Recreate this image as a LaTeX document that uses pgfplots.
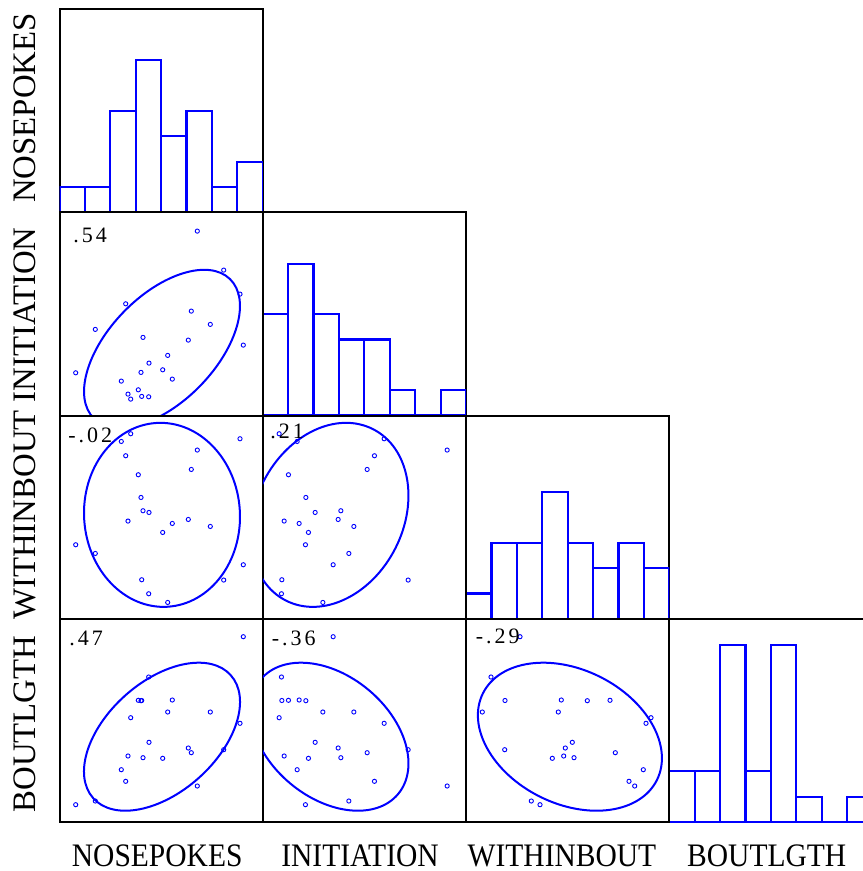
\documentclass[border=0pt]{standalone}
\usepackage{pgfplots}
\pgfplotsset{compat=1.18}
\usepackage{pgfplotstable}
\usepackage{fontspec}
\setmainfont{Liberation Serif}

\pgfplotstableread{
N I W B
137.8 184.4 168.7 36
164.2 145.4 38.7 72.3
180.5 121.4 180 98.7
66.2 111.7 163 40.7
131.8 104.4 149.3 69.3
35.8 86.1 65.3 21
150.8 91.1 92.3 110
83.5 78.1 108 64.3
128.8 75.4 99.3 74
183.8 70.4 54 185.3
108.2 60.1 16.3 110
89.5 52.4 106.3 79.7
16.2 42.7 74 17.3
81.5 43.1 121.3 121.3
103.2 45.7 86.3 63.7
112.8 36.4 95.3 122
61.8 34.4 177.3 52.3
78.8 25.7 144 121.7
68.5 21.4 97.7 66
71.2 16.4 185 104.3
82.2 19.1 39 121.5
89.2 18.7 25 145
}\data

\pgfplotsset{
  panel/.style={width=101.625pt,height=101.625pt,scale only axis,
    xmin=0,xmax=203.25,ymin=0,ymax=203.25,
    xtick=\empty,ytick=\empty,
    axis line style={line width=1pt,black},
    anchor=south west},
  hist/.style={width=101.625pt,height=101.625pt,scale only axis,
    xmin=0,xmax=8,ymin=0,ymax=8.03,
    xtick=\empty,ytick=\empty,
    axis line style={line width=1pt,black},
    anchor=south west},
}
\newcommand{\scat}[2]{\addplot[only marks, mark=o, mark size=1.05pt, blue, mark options={line width=0.45pt}] table[x=#1,y=#2]{\data};}
\newcommand{\ellip}[5]{\draw[blue, line width=1pt, rotate around={#3:(axis cs:#1,#2)}] (axis cs:#1,#2) ellipse [x radius=#4pt, y radius=#5pt];}
\newcommand{\hbars}[1]{\addplot[ybar interval, draw=blue, fill=none, line width=1.1pt] coordinates {#1};}
\newcommand{\lab}[1]{\fontsize{16.4pt}{18pt}\selectfont\scalebox{0.9}[1]{#1}}
\newcommand{\vlab}[1]{\fontsize{16.4pt}{18pt}\selectfont #1}
\newcommand{\rr}[1]{\fontsize{11pt}{12pt}\selectfont #1}
\newcommand{\sk}{\kern1.5pt}

\begin{document}
\begin{tikzpicture}
\path[use as bounding box] (0,0) rectangle (431pt,-435.5pt);

% diagonal histograms
\begin{axis}[hist, at={(29.75pt,-106.125pt)}]
\hbars{(0,1)(1,1)(2,4)(3,6)(4,3)(5,4)(6,1)(7,2)(8,0)}
\end{axis}
\begin{axis}[hist, at={(131.375pt,-207.75pt)}]
\hbars{(0,4)(1,6)(2,4)(3,3)(4,3)(5,1)(6,0)(7,1)(8,0)}
\end{axis}
\begin{axis}[hist, at={(233pt,-309.375pt)}]
\hbars{(0,1)(1,3)(2,3)(3,5)(4,3)(5,2)(6,3)(7,2)(8,0)}
\end{axis}
\begin{axis}[hist, at={(334.625pt,-411pt)}]
\hbars{(0,2)(1,2)(2,7)(3,2)(4,7)(5,1)(6,0)(7,1)(8,0)}
\end{axis}

% row 2
\begin{axis}[panel, at={(29.75pt,-207.75pt)}]
\scat{N}{I}
\ellip{102.5}{66.7}{45.7}{48.7}{26.6}
\end{axis}
% row 3
\begin{axis}[panel, at={(29.75pt,-309.375pt)}]
\scat{N}{W}
\ellip{102.5}{103.9}{93.44}{46.03}{38.97}
\end{axis}
\begin{axis}[panel, at={(131.375pt,-309.375pt)}]
\scat{I}{W}
\ellip{66.7}{103.9}{63.04}{48.07}{36.96}
\end{axis}
% row 4
\begin{axis}[panel, at={(29.75pt,-411pt)}]
\scat{N}{B}
\ellip{102.5}{85.3}{41.8}{46.13}{27.62}
\end{axis}
\begin{axis}[panel, at={(131.375pt,-411pt)}]
\scat{I}{B}
\ellip{66.7}{85.3}{-39.85}{44.72}{30.5}
\end{axis}
\begin{axis}[panel, at={(233pt,-411pt)}]
\scat{W}{B}
\ellip{103.9}{85.3}{-26.45}{48.6}{33.52}
\end{axis}

% correlation labels
\node[anchor=base west, inner sep=0pt] at (36.5pt,-121.35pt) {\rr{.\sk5\sk4}};
\node[anchor=base west, inner sep=0pt] at (34pt,-221pt) {\rr{-\sk.\sk0\sk2}};
\node[anchor=base west, inner sep=0pt] at (135pt,-219pt) {\rr{.\sk2\sk1}};
\node[anchor=base west, inner sep=0pt] at (34.5pt,-322.5pt) {\rr{.\sk4\sk7}};
\node[anchor=base west, inner sep=0pt] at (135.7pt,-322.85pt) {\rr{-\sk.\sk3\sk6}};
\node[anchor=base west, inner sep=0pt] at (237.7pt,-321.5pt) {\rr{-\sk.\sk2\sk9}};

% bottom labels
\node[anchor=base, inner sep=0pt] at (78.6pt,-433.35pt) {\lab{NOSEPOKES}};
\node[anchor=base, inner sep=0pt] at (180pt,-433.35pt) {\lab{INITIATION}};
\node[anchor=base, inner sep=0pt] at (281pt,-433.35pt) {\lab{WITHINBOUT}};
\node[anchor=base, inner sep=0pt] at (383.35pt,-433.35pt) {\lab{BOUTLGTH}};

% left labels
\node[anchor=base, inner sep=0pt, rotate=90] at (17.5pt,-54pt) {\vlab{NOSEPOKES}};
\node[anchor=base, inner sep=0pt, rotate=90] at (17.5pt,-157.5pt) {\vlab{INITIATION}};
\node[anchor=base, inner sep=0pt, rotate=90] at (17.5pt,-257.5pt) {\vlab{WITHINBOUT}};
\node[anchor=base, inner sep=0pt, rotate=90] at (17.5pt,-362pt) {\vlab{BOUTLGTH}};
\end{tikzpicture}
\end{document}
